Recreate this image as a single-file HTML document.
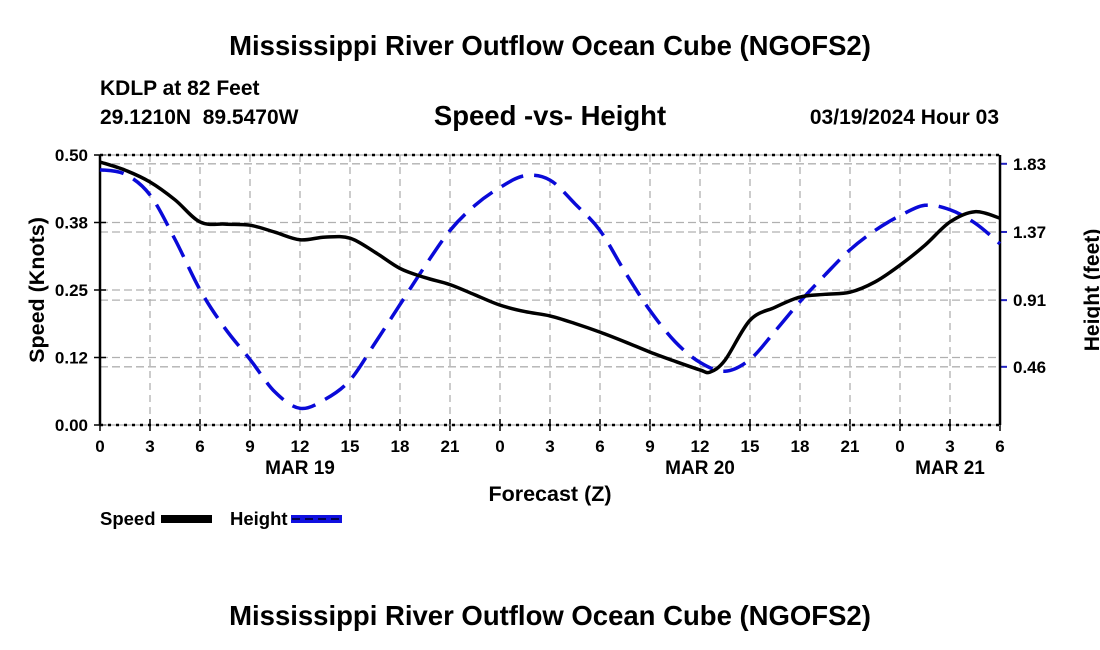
<!DOCTYPE html>
<html><head><meta charset="utf-8"><style>
html,body{margin:0;padding:0;background:#fff;}
svg{display:block;font-family:"Liberation Sans",Arial,sans-serif;font-weight:bold;}
</style></head><body>
<svg id="chart" width="1100" height="650" viewBox="0 0 1100 650">
<text x="550" y="55" font-size="27.5" text-anchor="middle">Mississippi River Outflow Ocean Cube (NGOFS2)</text>
<text x="100" y="95" font-size="21">KDLP at 82 Feet</text>
<text x="100" y="124" font-size="21">29.1210N&#160;&#160;89.5470W</text>
<text x="550" y="125" font-size="27.5" text-anchor="middle">Speed -vs- Height</text>
<text x="999" y="124" font-size="21" text-anchor="end">03/19/2024 Hour 03</text>
<g id="grid"></g>
<g id="axes"></g>
<g id="series"></g>
<text transform="translate(44,290) rotate(-90)" font-size="21.5" text-anchor="middle">Speed (Knots)</text>
<text transform="translate(1099,290) rotate(-90)" font-size="21" text-anchor="middle">Height (feet)</text>
<text x="550" y="501" font-size="21.5" text-anchor="middle">Forecast (Z)</text>
<g>
<text x="100" y="525" font-size="18.5">Speed</text>
<rect x="161" y="515" width="51" height="8" fill="#000"/>
<text x="230" y="525" font-size="18.5">Height</text>
<rect x="291" y="515" width="51" height="8" fill="#1010e0"/>
<line x1="292" y1="519" x2="342" y2="519" stroke="#000050" stroke-width="2" stroke-dasharray="8 5"/>
</g>
<text x="550" y="625" font-size="27.5" text-anchor="middle">Mississippi River Outflow Ocean Cube (NGOFS2)</text>
</svg>
<script>
const hours = [0,1.5,3,4.5,6,7.5,9,10.5,12,13.5,15,16.5,18,19.5,21,22.5,24,25.5,27,28.5,30,31.5,33,34.5,36,36.6,37.5,39,40.5,42,43.5,45,46.5,48,49.5,51,52.5,54];
const speedY = [0.487,0.472,0.45,0.417,0.376,0.372,0.37,0.357,0.343,0.348,0.346,0.32,0.29,0.273,0.26,0.241,0.222,0.21,0.202,0.188,0.172,0.154,0.135,0.118,0.102,0.098,0.12,0.194,0.218,0.237,0.242,0.246,0.265,0.296,0.333,0.376,0.395,0.383];
const heightHours = [0,1.5,3,4.5,6,7.5,9,10.5,12,13.5,15,16.5,18,19.5,21,22.5,24,25.5,27,28.5,30,31.5,33,34.5,36,37.5,39,40.5,42,43.5,45,46.5,48,49.5,51,52.5,54];
const heightY = [1.79,1.76,1.62,1.32,0.98,0.72,0.51,0.29,0.18,0.24,0.37,0.62,0.88,1.14,1.38,1.55,1.67,1.75,1.72,1.56,1.38,1.1,0.84,0.63,0.49,0.43,0.51,0.7,0.9,1.08,1.25,1.38,1.48,1.55,1.52,1.43,1.29];
const xTicks = [0,3,6,9,12,15,18,21,0,3,6,9,12,15,18,21,0,3,6];
const speedTicks = [0,0.125,0.25,0.375,0.5];
const speedTickLabels = ["0.00","0.12","0.25","0.38","0.50"];
const heightTicks = [0.46,0.91,1.37,1.83];
const dayLabels = ["MAR 19","MAR 20","MAR 21"];
const dayHours = [12,36,51];

const X0=100,X1=1000,YT=155,YB=425;
const xs=h=>X0+h*(X1-X0)/54;
const ys=v=>YB-v*(YB-YT)/0.5;
const yh=v=>435-v*148.2;
const NS="http://www.w3.org/2000/svg";
function mk(parent,tag,attrs){const e=document.createElementNS(NS,tag);for(const k in attrs)e.setAttribute(k,attrs[k]);parent.appendChild(e);return e;}
const grid=document.getElementById('grid'),axes=document.getElementById('axes'),series=document.getElementById('series');

xTicks.forEach((t,i)=>{const x=xs(i*3);
 if(i>0&&i<xTicks.length-1){const l=mk(grid,'line',{x1:x,y1:YT,x2:x,y2:YB,stroke:'#b0b0b0','stroke-width':1.3,'stroke-dasharray':'7 5'});
 
 }
 const tk=mk(axes,'line',{x1:x,y1:YB-6,x2:x,y2:YB+6,stroke:'#000','stroke-width':1.5});
 
 
 const tx=mk(axes,'text',{x:x,y:452,'font-size':17,'text-anchor':'middle'});tx.textContent=t;
 
 
});
dayLabels.forEach((d,i)=>{const t=mk(axes,'text',{x:xs(dayHours[i]),y:474,'font-size':19,'text-anchor':'middle'});t.textContent=d;
 
 });
speedTicks.forEach((v,i)=>{const y=ys(v);
 if(i>0&&i<speedTicks.length-1){const l=mk(grid,'line',{x1:X0,y1:y,x2:X1,y2:y,stroke:'#b0b0b0','stroke-width':1.3,'stroke-dasharray':'8 4'});
 
 }
 const tk=mk(axes,'line',{x1:X0-6,y1:y,x2:X0+6,y2:y,stroke:'#000','stroke-width':1.5});
 
 
 const tx=mk(axes,'text',{x:88,y:y+6,'font-size':17,'text-anchor':'end'});tx.textContent=speedTickLabels[i];
 
 
});
heightTicks.forEach(v=>{const y=yh(v);
 const l=mk(grid,'line',{x1:X0,y1:y,x2:X1,y2:y,stroke:'#b0b0b0','stroke-width':1.3,'stroke-dasharray':'8 4'});
 
 
 const tk=mk(axes,'line',{x1:X1,y1:y,x2:X1+7,y2:y,stroke:'#2020c0','stroke-width':2});
 
 
 const tx=mk(axes,'text',{x:1013,y:y+6,'font-size':17});tx.textContent=v.toFixed(2);
 
 
});
[[YT,'top-border'],[YB,'bottom-border']].forEach(([y,n])=>{
 const g=mk(axes,'line',{x1:X0,y1:y,x2:X1,y2:y,stroke:'#999','stroke-width':1});
 
 
 const d=mk(axes,'line',{x1:X0,y1:y,x2:X1,y2:y,stroke:'#000','stroke-width':2.5,'stroke-dasharray':'3 5'});
 
 });
const la=mk(axes,'line',{x1:X0,y1:YT,x2:X0,y2:YB,stroke:'#000','stroke-width':2.5});


const ra=mk(axes,'line',{x1:X1,y1:YT,x2:X1,y2:YB,stroke:'#000','stroke-width':2.5});



function smooth(pts){let d='M'+pts[0][0]+','+pts[0][1];
 for(let i=0;i<pts.length-1;i++){const p0=pts[i-1]||pts[i],p1=pts[i],p2=pts[i+1],p3=pts[i+2]||p2;
 d+=' C'+(p1[0]+(p2[0]-p0[0])/6)+','+(p1[1]+(p2[1]-p0[1])/6)+' '+(p2[0]-(p3[0]-p1[0])/6)+','+(p2[1]-(p3[1]-p1[1])/6)+' '+p2[0]+','+p2[1];}
 return d;}
const hp=mk(series,'path',{d:smooth(heightHours.map((h,i)=>[xs(h),yh(heightY[i])])),fill:'none',stroke:'#0a0ad8','stroke-width':3.5,'stroke-dasharray':'24 11'});


const sp=mk(series,'path',{d:smooth(hours.map((h,i)=>[xs(h),ys(speedY[i])])),fill:'none',stroke:'#000','stroke-width':3.5});


</script>
</body></html>
